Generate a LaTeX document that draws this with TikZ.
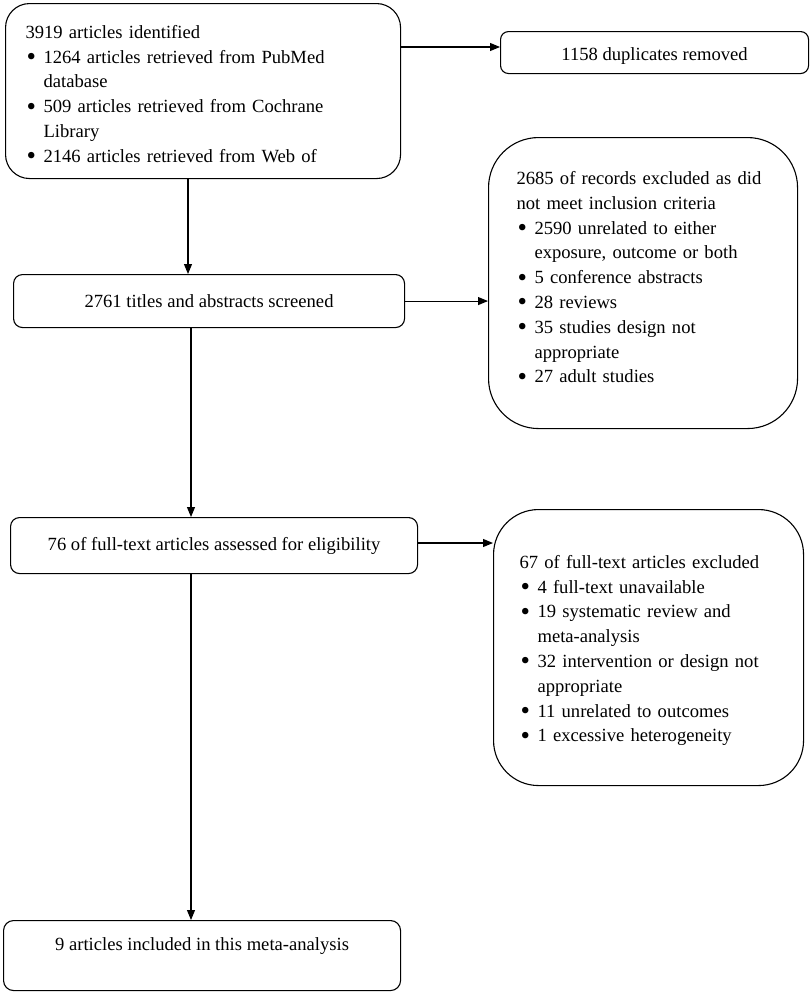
\documentclass[tikz,border=0pt]{standalone}
\usepackage{fontspec}
\setmainfont{Liberation Serif}
\usetikzlibrary{arrows.meta,calc}
\newcommand\bdot{\raisebox{-2.5pt}{\scalebox{1.45}{\textbullet}}}
\newcommand\bul[1]{\mbox{\makebox[18pt][l]{\hspace{1pt}\bdot}#1}}
\newcommand\cnt[1]{\mbox{\hspace*{18pt}#1}}
\newcommand\pl[1]{\mbox{#1}}
\begin{document}
\begin{tikzpicture}[x=1pt,y=-1pt,
  box/.style={draw,line width=1.1pt,anchor=north west,inner ysep=0pt,
    font=\fontsize{18.6}{24.8}\selectfont},
  listbox/.style={box,align=left},
  cbox/.style={box,align=center,inner xsep=4pt},
  arr/.style={line width=1.1pt,-{Triangle[length=10pt,width=8pt]}}]
\useasboundingbox[fill=white] (0,0) rectangle (810,993);

\node[listbox,rounded corners=24pt,minimum height=175pt,inner xsep=20pt,text width=355pt] (b1) at (5,3)
 {\pl{\rule{0pt}{21pt}3919 articles identified}\\
  \bul{1264 articles retrieved from PubMed}\\
  \cnt{database}\\
  \bul{509 articles retrieved from Cochrane}\\
  \cnt{Library}\\
  \bul{2146 articles retrieved from Web of}};

\node[cbox,rounded corners=8pt,minimum width=308pt,minimum height=42pt] (b2) at (500,31)
 {\rule{0pt}{19pt}1158 duplicates removed};

\node[listbox,rounded corners=50pt,minimum height=291pt,inner xsep=28pt,text width=253pt] (b3) at (488,137)
 {\pl{2685 of records excluded as did}\\
  \pl{not meet inclusion criteria}\\
  \bul{2590 unrelated to either}\\
  \cnt{exposure, outcome or both}\\
  \bul{5 conference abstracts}\\
  \bul{28 reviews}\\
  \bul{35 studies design not}\\
  \cnt{appropriate}\\
  \bul{27 adult studies}\rule[-12pt]{0pt}{12pt}};

\node[cbox,rounded corners=9pt,minimum width=391pt,minimum height=53pt] (b4) at (13,274)
 {2761 titles and abstracts screened};

\node[cbox,rounded corners=9pt,minimum width=407pt,minimum height=56pt] (b5) at (10,517)
 {76 of full-text articles assessed for eligibility};

\node[listbox,rounded corners=45pt,minimum height=276pt,inner xsep=26pt,text width=258pt] (b6) at (493,509)
 {\pl{\rule{0pt}{19pt}67 of full-text articles excluded}\\
  \bul{4 full-text unavailable}\\
  \bul{19 systematic review and}\\
  \cnt{meta-analysis}\\
  \bul{32 intervention or design not}\\
  \cnt{appropriate}\\
  \bul{11 unrelated to outcomes}\\
  \bul{1 excessive heterogeneity}};

\node[cbox,rounded corners=10pt,minimum width=397pt,minimum height=70pt,text depth=24pt] (b7) at (3,920)
 {9 articles included in this meta-analysis};

\coordinate (p1) at ($(b1.north east)+(0,44)$);
\draw[arr] (p1) -- (p1 -| b2.west);
\coordinate (p2) at ($(b1.south west)+(183,0)$);
\draw[arr] (p2) -- (p2 |- b4.north);
\coordinate (p3) at ($(b4.south west)+(178,0)$);
\draw[arr] (p3) -- (p3 |- b5.north);
\draw[arr] (b4.east) -- (b4.east -| b3.west);
\coordinate (p5) at ($(b5.south west)+(181,0)$);
\draw[arr] (p5) -- (p5 |- b7.north);
\coordinate (p6) at ($(b5.north east)+(0,26)$);
\draw[arr] (p6) -- (p6 -| b6.west);
\end{tikzpicture}
\end{document}
